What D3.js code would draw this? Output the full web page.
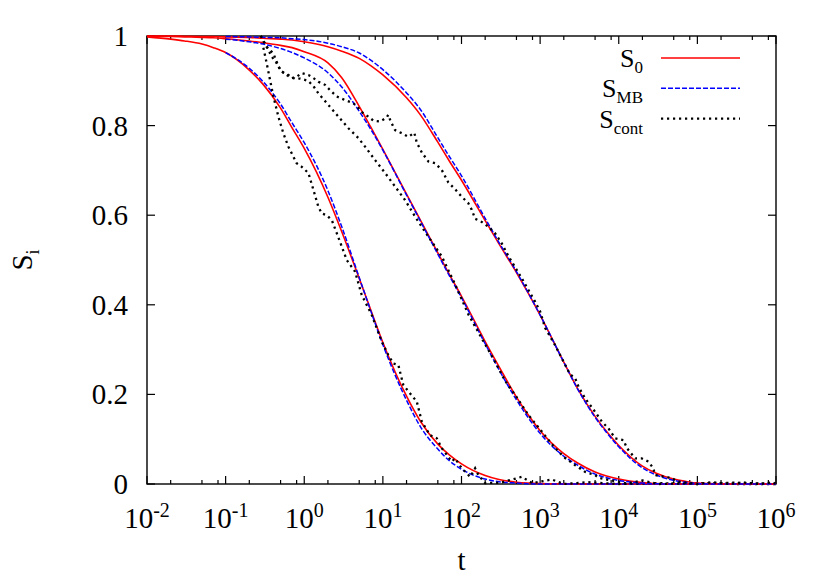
<!DOCTYPE html>
<html>
<head>
<meta charset="utf-8">
<script src="https://cdn.jsdelivr.net/npm/d3@7"></script>
<style>
  body { margin: 0; background: #fff; }
  text { font-family: "Liberation Serif", "DejaVu Serif", serif; fill: #000; }
</style>
</head>
<body>
<div id="chart"></div>
<script>
// time grid for the smooth curves (1, 2, 3, 5, 7 per decade)
var tGrid = [0.01, 0.02, 0.03, 0.05, 0.07,
             0.1, 0.2, 0.3, 0.5, 0.7,
             1, 2, 3, 5, 7,
             10, 20, 30, 50, 70,
             100, 200, 300, 500, 700,
             1e3, 2e3, 3e3, 5e3, 7e3,
             1e4, 2e4, 3e4, 5e4, 7e4,
             1e5, 2e5, 3e5, 5e5, 7e5,
             1e6]

// S_0 (red)
var s0A = [0.998, 0.993, 0.989, 0.982, 0.974,
           0.963, 0.924, 0.892, 0.839, 0.795,
           0.749, 0.640, 0.563, 0.459, 0.389,
           0.316, 0.196, 0.140, 0.089, 0.065,
           0.045, 0.019, 0.010, 0.004, 0.002,
           0.001, 0.0003, 0, 0, 0,
           0, 0, 0, 0, 0,
           0, 0, 0, 0, 0,
           0]
var s0B = [0.9995, 0.999, 0.998, 0.997, 0.996,
           0.994, 0.989, 0.985, 0.979, 0.974,
           0.965, 0.940, 0.907, 0.843, 0.797,
           0.747, 0.647, 0.589, 0.516, 0.468,
           0.419, 0.318, 0.262, 0.194, 0.155,
           0.119, 0.068, 0.047, 0.027, 0.018,
           0.011, 0.003, 0.0008, 0.0002, 0,
           0, 0, 0, 0, 0,
           0]
var s0C = [1, 1, 0.9995, 0.999, 0.999,
           0.998, 0.997, 0.995, 0.993, 0.991,
           0.987, 0.976, 0.966, 0.950, 0.934,
           0.913, 0.862, 0.824, 0.763, 0.721,
           0.678, 0.588, 0.536, 0.472, 0.427,
           0.377, 0.272, 0.213, 0.151, 0.117,
           0.086, 0.040, 0.024, 0.011, 0.006,
           0.002, 0.0003, 0, 0, 0,
           0]

// S_MB (blue) starts at t = 0.1
var tMB = [0.1, 0.2, 0.3, 0.5, 0.7,
           1, 2, 3, 5, 7,
           10, 20, 30, 50, 70,
           100, 200, 300, 500, 700,
           1e3, 2e3, 3e3, 5e3, 7e3,
           1e4, 2e4, 3e4, 5e4, 7e4,
           1e5, 2e5, 3e5, 5e5, 7e5,
           1e6]
var smbA = [0.963, 0.928, 0.898, 0.848, 0.806,
            0.762, 0.655, 0.574, 0.461, 0.387,
            0.311, 0.187, 0.128, 0.078, 0.052,
            0.033, 0.011, 0.005, 0.002, 0.0005,
            0, 0, 0, 0, 0,
            0, 0, 0, 0, 0,
            0, 0, 0, 0, 0,
            0]
var smbB = [0.993, 0.987, 0.982, 0.972, 0.963,
            0.951, 0.918, 0.886, 0.832, 0.792,
            0.745, 0.645, 0.587, 0.513, 0.465,
            0.416, 0.313, 0.255, 0.188, 0.149,
            0.113, 0.062, 0.042, 0.022, 0.014,
            0.008, 0.002, 0.0005, 0, 0,
            0, 0, 0, 0, 0,
            0]
var smbC = [0.999, 0.998, 0.997, 0.996, 0.994,
            0.992, 0.984, 0.976, 0.962, 0.946,
            0.925, 0.873, 0.836, 0.773, 0.731,
            0.688, 0.593, 0.539, 0.474, 0.428,
            0.377, 0.272, 0.212, 0.149, 0.115,
            0.083, 0.036, 0.020, 0.008, 0.004,
            0.001, 0, 0, 0, 0,
            0]

// S_cont (black, noisy)
var tContA = [0.28, 0.30, 0.333, 0.367, 0.405, 0.469, 0.542, 0.628, 0.80, 0.93,
              1.13, 1.31, 1.51, 1.67, 1.93, 2.24, 2.59, 3.0, 3.47, 4.43,
              5.38, 7.23, 9.68, 11.7, 13.6, 15.7, 18.2, 22.2, 27, 31.3,
              39.8, 48.5, 56.1, 75.2, 82.8, 101, 129, 149, 164, 200,
              316, 585, 794, 1410, 2000, 4000, 1e4, 3e4, 1e5, 3e5, 1e6]
var sContA = [1.0, 0.976, 0.939, 0.902, 0.865, 0.82, 0.783, 0.753, 0.716, 0.708,
              0.694, 0.656, 0.619, 0.604, 0.6, 0.589, 0.56, 0.53, 0.5, 0.474,
              0.422, 0.377, 0.318, 0.288, 0.269, 0.266, 0.221, 0.202, 0.184, 0.139,
              0.109, 0.102, 0.08, 0.05, 0.057, 0.035, 0.016, 0.035, 0.02, 0.002,
              0.003, 0.016, 0.002, 0.01, 0, 0.004, 0, 0.002, 0, 0.003, 0]

var tContB = [0.28, 0.349, 0.385, 0.447, 0.518, 0.628, 0.764, 0.89, 1.12, 1.31,
              1.51, 2.03, 2.72, 3.65, 4.89, 5.94, 7.96, 10.7, 14.3, 19.1,
              25.7, 31.3, 37.9, 46.1, 56.1, 82.8, 122, 181, 267, 359,
              481, 710, 1050, 1550, 2080, 2790, 3740, 5010, 5520, 7410,
              9910, 12600, 20000, 31600, 1e5, 3.16e5, 1e6]
var sContB = [1.0, 0.969, 0.954, 0.939, 0.92, 0.913, 0.904, 0.905, 0.9, 0.888,
              0.872, 0.846, 0.82, 0.794, 0.772, 0.753, 0.723, 0.694, 0.664, 0.634,
              0.597, 0.574, 0.552, 0.53, 0.508, 0.446, 0.379, 0.325, 0.273, 0.23,
              0.199, 0.154, 0.117, 0.08, 0.058, 0.042, 0.027, 0.02, 0.014, 0.009,
              0.005, 0.001, 0.008, 0, 0.002, 0, 0]

var tContC = [0.28, 0.333, 0.405, 0.492, 0.598, 0.693, 0.80, 0.93, 1.13, 1.31,
              1.51, 1.84, 2.13, 2.59, 3.30, 4.22, 4.89, 5.65, 6.55, 7.57,
              9.2, 11.2, 11.7, 12.6, 14.3, 17.4, 21.1, 25.1, 27, 31.3,
              37.9, 46.1, 56.1, 68.1, 82.8, 101, 122, 135, 149, 181,
              220, 267, 325, 394, 585, 863, 1000, 1160, 1550, 2080,
              2400, 2790, 3080, 3740, 5010, 6100, 7410, 9000, 11500, 12700,
              16200, 19600, 23900, 27500, 29000, 38900, 47300, 57500, 79400, 1e5,
              1.58e5, 2.5e5, 4e5, 6.3e5, 8.9e5, 1e6]
var sContC = [1.0, 0.976, 0.961, 0.924, 0.913, 0.906, 0.909, 0.917, 0.913, 0.906,
              0.898, 0.891, 0.879, 0.865, 0.857, 0.85, 0.839, 0.827, 0.82, 0.811,
              0.809, 0.818, 0.824, 0.809, 0.79, 0.783, 0.775, 0.784, 0.762, 0.74,
              0.72, 0.716, 0.701, 0.673, 0.658, 0.641, 0.627, 0.612, 0.592, 0.585,
              0.574, 0.56, 0.537, 0.509, 0.459, 0.407, 0.385, 0.348, 0.31, 0.266,
              0.245, 0.236, 0.217, 0.191, 0.161, 0.139, 0.124, 0.102, 0.098, 0.08,
              0.057, 0.057, 0.05, 0.035, 0.02, 0.016, 0.013, 0.005, 0.002, 0,
              0.004, 0, 0.003, 0, 0.004, 0]

var xExponents = [-2, -1, 0, 1, 2, 3, 4, 5, 6]
var yTicks = [0, 0.2, 0.4, 0.6, 0.8, 1]
var yTickLabels = ["0", "0.2", "0.4", "0.6", "0.8", "1"]

// set the dimensions
var width = 830
var height = 581
var plotL = 147, plotR = 776, plotT = 36, plotB = 484

var svg = d3.select("#chart")
  .append("svg")
  .attr("width", width)
  .attr("height", height)

var x = d3.scaleLog().domain([0.01, 1e6]).range([plotL, plotR])
var y = d3.scaleLinear().domain([0, 1]).range([plotB, plotT])

// frame
svg.append("rect")
  .attr("x", plotL).attr("y", plotT)
  .attr("width", plotR - plotL).attr("height", plotB - plotT)
  .attr("fill", "none").attr("stroke", "#000").attr("stroke-width", 1.4)

// x ticks (major + minor at 2, 5, 8), bottom and top, pointing inward
var majorLen = 8, minorLen = 4
xExponents.forEach(function(e) {
  var v = Math.pow(10, e)
  var px = x(v)
  svg.append("line").attr("x1", px).attr("x2", px).attr("y1", plotB).attr("y2", plotB - majorLen)
    .attr("stroke", "#000").attr("stroke-width", 1.2)
  svg.append("line").attr("x1", px).attr("x2", px).attr("y1", plotT).attr("y2", plotT + majorLen)
    .attr("stroke", "#000").attr("stroke-width", 1.2)
  if (e < 6) {
    [2, 5, 8].forEach(function(m) {
      var mx = x(m * v)
      svg.append("line").attr("x1", mx).attr("x2", mx).attr("y1", plotB).attr("y2", plotB - minorLen)
        .attr("stroke", "#000").attr("stroke-width", 1.2)
      svg.append("line").attr("x1", mx).attr("x2", mx).attr("y1", plotT).attr("y2", plotT + minorLen)
        .attr("stroke", "#000").attr("stroke-width", 1.2)
    })
  }
  var lab = svg.append("text")
    .attr("x", px).attr("y", plotB + 44)
    .attr("text-anchor", "middle")
    .style("font-size", "29px")
  lab.append("tspan").text("10")
  lab.append("tspan").text(String(e)).attr("dy", -11).style("font-size", "20px")
})

// y ticks left and right
yTicks.forEach(function(v, i) {
  var py = y(v)
  svg.append("line").attr("x1", plotL).attr("x2", plotL + majorLen).attr("y1", py).attr("y2", py)
    .attr("stroke", "#000").attr("stroke-width", 1.2)
  svg.append("line").attr("x1", plotR).attr("x2", plotR - majorLen).attr("y1", py).attr("y2", py)
    .attr("stroke", "#000").attr("stroke-width", 1.2)
  svg.append("text")
    .attr("x", plotL - 19).attr("y", py + 10)
    .attr("text-anchor", "end")
    .style("font-size", "29px")
    .text(yTickLabels[i])
})

// axis titles
svg.append("text")
  .attr("x", (plotL + plotR) / 2).attr("y", 570)
  .attr("text-anchor", "middle")
  .style("font-size", "29px")
  .text("t")

var yt = svg.append("text")
  .attr("transform", "translate(32," + ((plotT + plotB) / 2) + ") rotate(-90)")
  .attr("text-anchor", "middle")
  .style("font-size", "29px")
yt.append("tspan").text("S")
yt.append("tspan").text("i").attr("dy", 7).style("font-size", "18px")

// curves
var smooth = d3.line()
  .x(function(d) { return x(d[0]) })
  .y(function(d) { return y(d[1]) })
  .curve(d3.curveMonotoneX)

var rough = d3.line()
  .x(function(d) { return x(d[0]) })
  .y(function(d) { return y(d[1]) })

function pairs(ts, ss) { return ts.map(function(t, i) { return [t, ss[i]] }) }

var red = { stroke: "#ff0000", dash: null, w: 1.6 }
var blue = { stroke: "#0000ff", dash: "5,2", w: 1.5 }
var black = { stroke: "#000", dash: "2.2,3.8", w: 2.3 }

var curves = [
  [pairs(tGrid, s0A), red, smooth], [pairs(tMB, smbA), blue, smooth], [pairs(tContA, sContA), black, rough],
  [pairs(tGrid, s0B), red, smooth], [pairs(tMB, smbB), blue, smooth], [pairs(tContB, sContB), black, rough],
  [pairs(tGrid, s0C), red, smooth], [pairs(tMB, smbC), blue, smooth], [pairs(tContC, sContC), black, rough]
]

curves.forEach(function(c) {
  svg.append("path")
    .attr("d", c[2](c[0]))
    .attr("fill", "none")
    .attr("stroke", c[1].stroke)
    .attr("stroke-width", c[1].w)
    .attr("stroke-dasharray", c[1].dash)
})

// legend
var legend = [
  { main: "S", sub: "0", style: red },
  { main: "S", sub: "MB", style: blue },
  { main: "S", sub: "cont", style: black }
]
legend.forEach(function(d, i) {
  var ly = 58 + i * 30.3
  svg.append("line")
    .attr("x1", 661).attr("x2", 740).attr("y1", ly).attr("y2", ly)
    .attr("stroke", d.style.stroke)
    .attr("stroke-width", d.style.w)
    .attr("stroke-dasharray", d.style.dash)
  var t = svg.append("text")
    .attr("x", 643).attr("y", ly + 9)
    .attr("text-anchor", "end")
    .style("font-size", "26px")
  t.append("tspan").text(d.main)
  t.append("tspan").text(d.sub).attr("dy", 6).style("font-size", "17px")
})
</script>
</body>
</html>
